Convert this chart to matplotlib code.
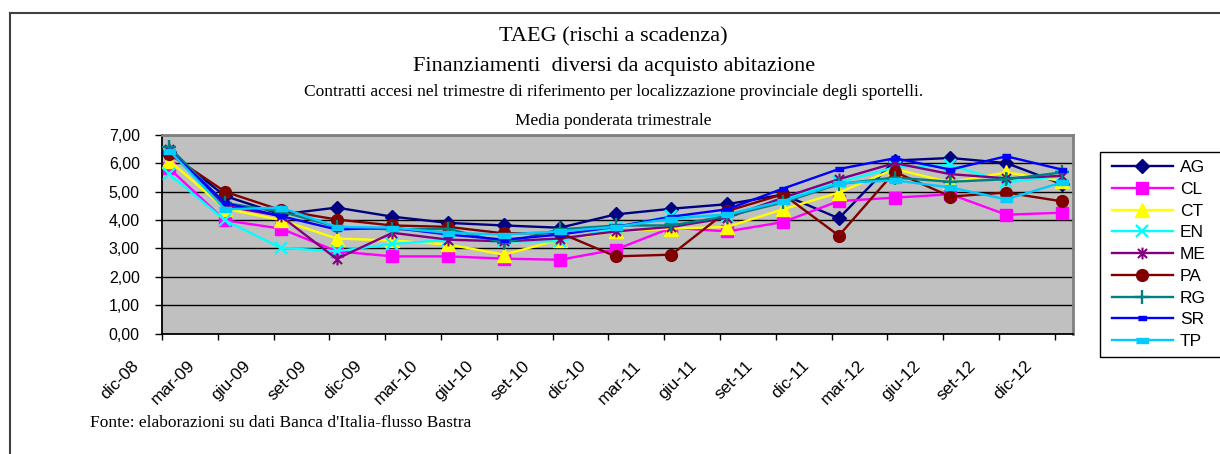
import numpy as np
import matplotlib
matplotlib.use('Agg')
import matplotlib.pyplot as plt
from matplotlib.path import Path
from matplotlib.lines import Line2D
from matplotlib.patches import Rectangle
from matplotlib.transforms import ScaledTranslation
from matplotlib.ticker import FuncFormatter

plt.rcParams['font.family'] = ['Liberation Sans', 'DejaVu Sans']

# trimestri
periodi = ['dic-08', 'mar-09', 'giu-09', 'set-09', 'dic-09', 'mar-10', 'giu-10',
           'set-10', 'dic-10', 'mar-11', 'giu-11', 'set-11', 'dic-11', 'mar-12',
           'giu-12', 'set-12', 'dic-12']

# TAEG per provincia
AG = [6.40, 4.85, 4.20, 4.44, 4.12, 3.90, 3.81, 3.73, 4.20, 4.40, 4.56, 4.90, 4.06, 6.10, 6.19, 6.01, 5.27]
CL = [5.82, 3.99, 3.70, 2.90, 2.72, 2.72, 2.64, 2.60, 2.96, 3.73, 3.60, 3.93, 4.67, 4.79, 4.91, 4.19, 4.26]
CT = [6.10, 4.40, 4.00, 3.35, 3.28, 3.14, 2.78, 3.31, 3.60, 3.70, 3.76, 4.38, 4.97, 5.80, 5.33, 5.68, 5.38]
EN = [5.62, 3.99, 3.02, 2.90, 3.16, 3.30, 3.25, 3.25, 3.73, 4.15, 4.14, 4.73, 5.33, 5.86, 5.94, 5.33, 5.56]
ME = [6.50, 4.50, 4.14, 2.63, 3.55, 3.31, 3.25, 3.35, 3.60, 3.76, 4.08, 4.79, 5.44, 6.01, 5.62, 5.47, 5.56]
PA = [6.33, 5.00, 4.35, 4.02, 3.81, 3.76, 3.53, 3.55, 2.72, 2.78, 4.32, 4.91, 3.45, 5.70, 4.83, 4.97, 4.66]
RG = [6.57, 4.60, 4.30, 3.76, 3.67, 3.69, 3.20, 3.67, 3.81, 3.81, 4.14, 4.62, 5.27, 5.50, 5.35, 5.44, 5.68]
SR = [6.45, 4.60, 4.14, 3.67, 3.73, 3.49, 3.31, 3.49, 3.76, 4.12, 4.38, 5.11, 5.80, 6.18, 5.78, 6.25, 5.78]
TP = [6.45, 4.38, 4.44, 3.76, 3.73, 3.55, 3.49, 3.60, 3.76, 4.05, 4.20, 4.67, 5.30, 5.40, 5.15, 4.73, 5.33]

province = ['AG', 'CL', 'CT', 'EN', 'ME', 'PA', 'RG', 'SR', 'TP']
serie = [AG, CL, CT, EN, ME, PA, RG, SR, TP]

# marker stile Excel
stella = Path([(-1, -1), (1, 1), (-1, 1), (1, -1), (0, -1.3), (0, 1.3)],
              [Path.MOVETO, Path.LINETO, Path.MOVETO, Path.LINETO, Path.MOVETO, Path.LINETO])
trattino = [(-1, -0.4), (1, -0.4), (1, 0.4), (-1, 0.4)]

stili = {
    'AG': dict(color='#000080', marker='D', ms=7.5),
    'CL': dict(color='#FF00FF', marker='s', ms=8),
    'CT': dict(color='#FFFF00', marker='^', ms=10),
    'EN': dict(color='#00FFFF', marker='x', ms=8.5, mew=1.7),
    'ME': dict(color='#800080', marker=stella, ms=8.5, mfc='none', mew=1.5),
    'PA': dict(color='#800000', marker='o', ms=8.5),
    'RG': dict(color='#008080', marker='+', ms=10, mew=1.7),
    'SR': dict(color='#0000FF', marker=trattino, ms=6),
    'TP': dict(color='#00CCFF', marker=trattino, ms=9),
}

W, H = 1220, 454
fig = plt.figure(figsize=(W / 100, H / 100), dpi=100)
ax = fig.add_axes([162 / W, 1 - 333.5 / H, (1073 - 162) / W, (333.5 - 135) / H])
ax.set_facecolor('#C0C0C0')

x = np.arange(len(periodi))
xp = x + 0.13
handles = []
for nome, val in zip(province, serie):
    s = stili[nome]
    h, = ax.plot(xp, val, lw=1.7, color=s['color'], marker=s['marker'], ms=s['ms'],
                 mfc=s.get('mfc', s['color']), mec=s['color'], mew=s.get('mew', 1),
                 label=nome, clip_on=False, zorder=3)
    handles.append(h)

ax.set_xlim(0, (1073 - 162) / 55.8)
ax.set_ylim(0, 7)
ax.set_yticks(np.arange(0, 8, 1))
ax.yaxis.set_major_formatter(FuncFormatter(lambda v, p: f'{v:.2f}'.replace('.', ',')))
ax.set_xticks(x)
ax.set_xticklabels([])

# etichette asse x ruotate, spostate come in Excel
off = ScaledTranslation(-0.20, -0.245, fig.dpi_scale_trans)
for xi, lab in zip(x, periodi):
    ax.text(xi, 0, lab, transform=ax.get_xaxis_transform() + off, rotation=45,
            ha='right', va='top', fontsize=12.5)

ax.grid(axis='y', color='black', lw=1)
ax.set_axisbelow(True)
ax.tick_params(axis='y', direction='out', length=5, width=1, pad=11, labelsize=11.5)
ax.tick_params(axis='x', direction='out', length=4.5, width=1)
for sp in ['left', 'bottom']:
    ax.spines[sp].set_color('black')
    ax.spines[sp].set_linewidth(1.3)
for sp in ['top', 'right']:
    ax.spines[sp].set_color('#808080')
    ax.spines[sp].set_linewidth(2)

# titoli
serif = ['Liberation Serif', 'DejaVu Serif']
fig.text(0.503, 1 - 37 / H, 'TAEG (rischi a scadenza)', ha='center', va='center', fontsize=16, family=serif)
fig.text(0.503, 1 - 67 / H, 'Finanziamenti  diversi da acquisto abitazione', ha='center', va='center', fontsize=16, family=serif)
fig.text(0.503, 1 - 92 / H, 'Contratti accesi nel trimestre di riferimento per localizzazione provinciale degli sportelli.',
         ha='center', va='center', fontsize=12.5, family=serif)
fig.text(0.503, 1 - 121 / H, 'Media ponderata trimestrale', ha='center', va='center', fontsize=12.5, family=serif)
fig.text(90 / W, 1 - 423 / H, "Fonte: elaborazioni su dati Banca d'Italia-flusso Bastra", ha='left', va='center',
         fontsize=12.5, family=serif)

# legenda
fig.legend(handles, province, loc='upper left', bbox_to_anchor=(1112 / W, 1 - 160 / H), frameon=False,
           fontsize=12.5, handlelength=3.5, labelspacing=0.38, handletextpad=0.4, borderpad=0, borderaxespad=0)
fig.add_artist(Rectangle((1100 / W, 1 - 357 / H), 0.2, (357 - 152) / H, transform=fig.transFigure,
                         fill=False, ec='black', lw=1))

# cornice del grafico
fig.add_artist(Line2D([10 / W, 10 / W], [0, 1 - 13 / H], color='#404040', lw=1.5))
fig.add_artist(Line2D([10 / W, 1], [1 - 13 / H, 1 - 13 / H], color='#404040', lw=1.5))

fig.savefig('out.png', dpi=100, facecolor='white')
